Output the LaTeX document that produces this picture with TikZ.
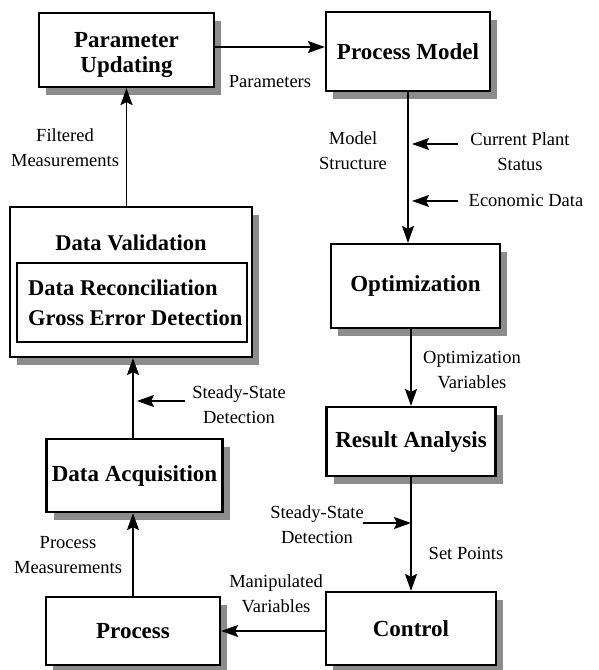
\documentclass[tikz,border=0pt]{standalone}
\usepackage{fontspec}
\setmainfont{Liberation Serif}
\usetikzlibrary{arrows.meta,shadows}
\begin{document}
\begin{tikzpicture}[x=1pt,y=-1pt,
  blk/.style={draw, line width=2.2pt, fill=white, inner sep=0pt, align=center,
    font=\fontsize{23}{25}\selectfont\bfseries,
    drop shadow={shadow xshift=7pt, shadow yshift=-8pt, fill=black!45, opacity=1}},
  frame/.style={draw, line width=2pt, inner sep=0pt},
  boxtxt/.style={inner sep=0pt, font=\fontsize{22.5}{30}\selectfont\bfseries},
  lbl/.style={align=center, inner sep=0pt, font=\fontsize{18.5}{25}\selectfont},
  arr/.style={line width=1.6pt, -{Stealth[length=17pt,width=12pt,inset=3pt]}},
]
\path[use as bounding box] (0,0) rectangle (598,670);

% blocks
\node[blk, minimum width=175pt, minimum height=74pt] (pu) at (126.5,50) {};
\node[align=center, inner sep=0pt, font=\fontsize{23}{25}\selectfont\bfseries] (put) at (126.5,55) {Parameter\\Updating};
\node[blk, minimum width=164pt, minimum height=79pt] (pm) at (408,51.5) {Process Model};
\node[blk, minimum width=242pt, minimum height=150pt] (dv) at (131,282) {};
\node[boxtxt] (dvt) at (131,243) {Data Validation};
\node[frame, minimum width=230pt, minimum height=79pt] (dvin) at (132,302.5) {};
\node[boxtxt, anchor=west, align=left] (dvtxt) at (28,303) {Data Reconciliation\\Gross Error Detection};
\node[blk, minimum width=169pt, minimum height=84pt] (opt) at (415.5,286) {Optimization};
\node[blk, minimum width=169pt, minimum height=69pt] (ra) at (411,441.5) {Result Analysis};
\node[blk, minimum width=176pt, minimum height=73pt] (da) at (134.5,475.5) {Data Acquisition};
\node[blk, minimum width=174pt, minimum height=68pt] (proc) at (133,631) {Process};
\node[blk, minimum width=170pt, minimum height=73pt] (ctrl) at (411,628.5) {Control};

% labels
\node[lbl] (lparam) at (270,82) {Parameters};
\node[lbl] (lfilt) at (65,147.5) {Filtered\\Measurements};
\node[lbl] (lms) at (353,150.5) {Model\\Structure};
\node[lbl] (lcps) at (520,151.5) {Current Plant\\Status};
\node[lbl] (leco) at (526,200) {Economic Data};
\node[lbl] (lopt) at (472,370.5) {Optimization\\Variables};
\node[lbl] (lss1) at (239,405) {Steady-State\\Detection};
\node[lbl] (lss2) at (317,524.5) {Steady-State\\Detection};
\node[lbl] (lsp) at (466,553) {Set Points};
\node[lbl] (lpm) at (68,555) {Process\\Measurements};
\node[lbl] (lmv) at (276,594) {Manipulated\\Variables};

% free ends of the side inputs
\coordinate (pa) at ([yshift=3pt]pu.east);
\coordinate (cpsA) at (458,144);
\coordinate (ecoA) at (458,201);
\coordinate (ss1A) at (185,401);
\coordinate (ss2A) at (363,523);

% connectors
\draw[arr] (pa) -- (pm.west |- pa);
\draw[arr] (pu.south |- dv.north) -- (pu.south);
\draw[arr] (pm.south) -- (pm.south |- opt.north);
\draw[arr, shorten >=4pt] (cpsA) -- (cpsA -| pm.south);
\draw[arr, shorten >=4pt] (ecoA) -- (ecoA -| pm.south);
\draw[arr] (ra.north |- opt.south) -- (ra.north);
\draw[arr] (ra.south) -- (ctrl.north);
\draw[arr] (ss2A) -- (ss2A -| ra.south);
\draw[arr] (proc.north) -- (proc.north |- da.south);
\draw[arr] (proc.north |- da.north) -- (proc.north |- dv.south);
\draw[arr, shorten >=4pt] (ss1A) -- (ss1A -| proc.north);
\draw[arr] (ctrl.west |- proc.east) -- (proc.east);
\end{tikzpicture}
\end{document}
